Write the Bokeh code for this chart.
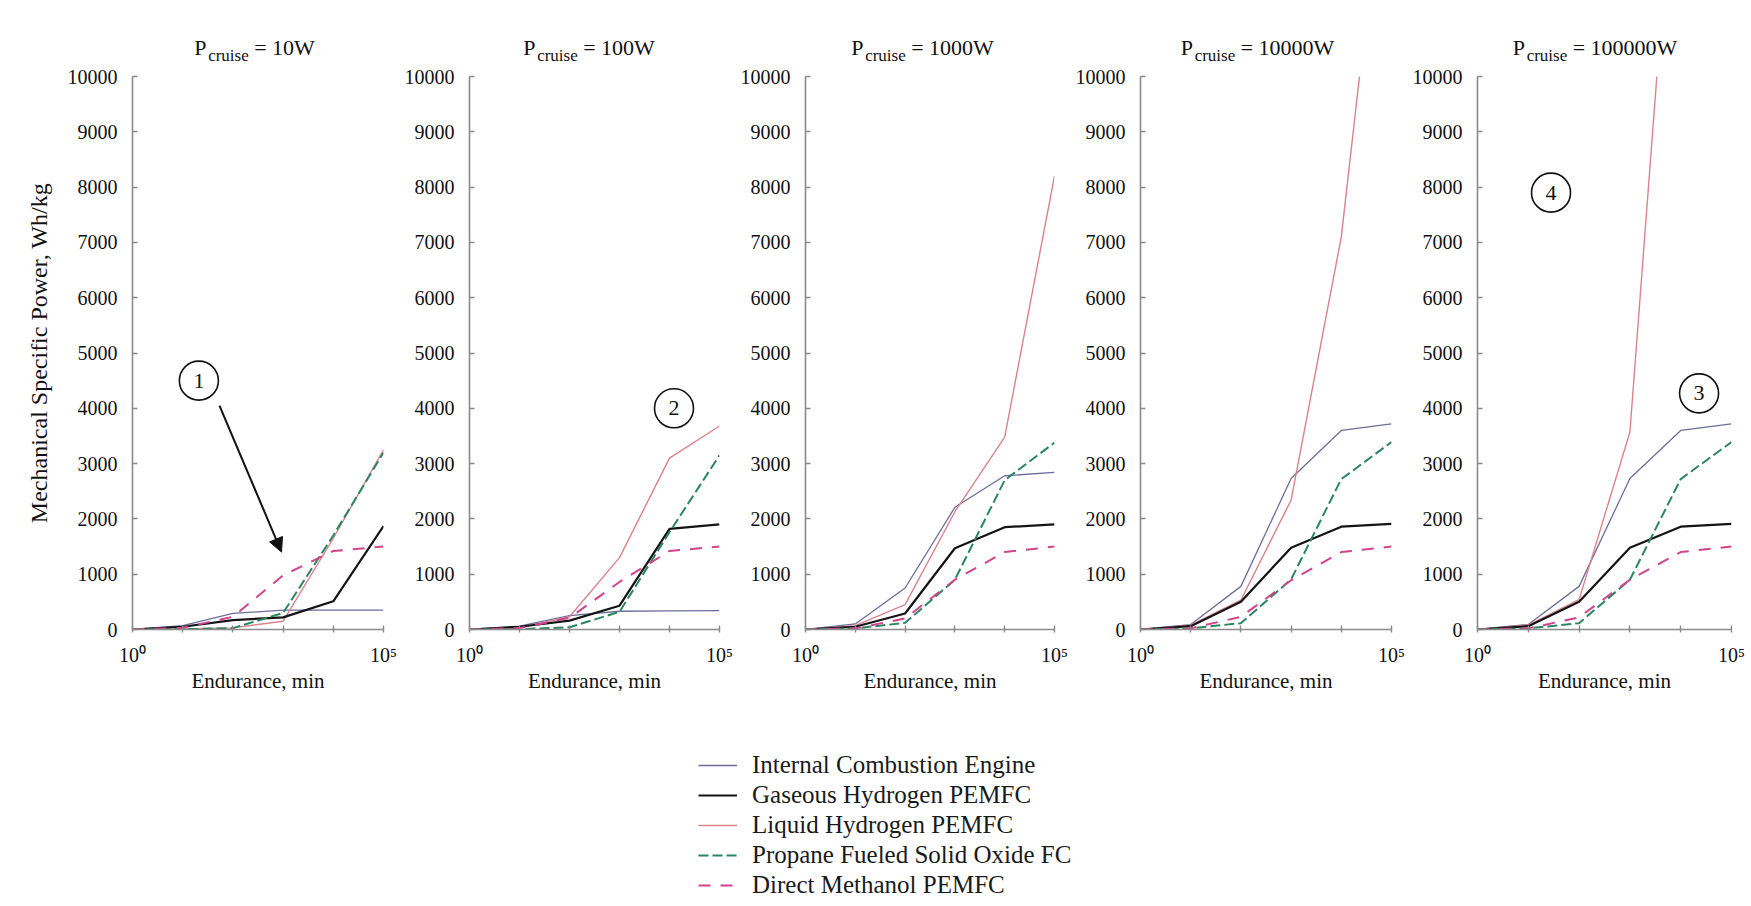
from bokeh.plotting import figure
from bokeh.layouts import row, column
from bokeh.models import FixedTicker, Arrow, NormalHead, Legend, LegendItem, Range1d
from bokeh.core.properties import value
from bokeh.embed import file_html
from bokeh.resources import INLINE

FONT = "Liberation Serif"

# ---------------- data ----------------
endurance_min = [1, 10, 100, 1000, 10000, 100000]
cruise_power = ["10W", "100W", "1000W", "10000W", "100000W"]
series_labels = ["Internal Combustion Engine", "Gaseous Hydrogen PEMFC",
                 "Liquid Hydrogen PEMFC", "Propane Fueled Solid Oxide FC",
                 "Direct Methanol PEMFC"]

# one list per cruise power panel (10W, 100W, 1000W, 10000W, 100000W)
ice = [[0, 70, 290, 350, 350, 350],
       [0, 60, 250, 330, 335, 340],
       [0, 100, 750, 2210, 2780, 2840],
       [0, 90, 780, 2730, 3600, 3720],
       [0, 90, 780, 2730, 3600, 3720]]
gh2 = [[0, 50, 170, 220, 510, 1870],
       [0, 50, 160, 430, 1820, 1900],
       [0, 50, 290, 1470, 1850, 1900],
       [0, 60, 500, 1480, 1860, 1910],
       [0, 60, 500, 1480, 1860, 1910]]
lh2 = [[0, 10, 30, 150, 1650, 3250],
       [0, 30, 230, 1300, 3100, 3680],
       [0, 70, 450, 2130, 3480, 8200],
       [0, 80, 530, 2340, 7100, 15100],
       [0, 80, 540, 3570, 15700, 25000]]
sofc = [[0, 5, 25, 300, 1700, 3200],
        [0, 5, 40, 320, 1760, 3150],
        [0, 20, 120, 900, 2700, 3380],
        [0, 20, 115, 905, 2720, 3390],
        [0, 20, 115, 900, 2720, 3390]]
dmfc = [[0, 30, 230, 980, 1420, 1500],
        [0, 25, 210, 860, 1420, 1500],
        [0, 20, 200, 900, 1400, 1500],
        [0, 20, 230, 890, 1400, 1500],
        [0, 20, 220, 900, 1400, 1500]]

y_ticks = list(range(0, 10001, 1000))
x_tick_labels = {1: "10\u2070", 10: "", 100: "", 1000: "", 10000: "", 100000: "10\u2075"}

# numbered callouts
callout_panel = [0, 1, 4, 4]
callout_text = ["1", "2", "4", "3"]
callout_x = [21, 12300, 28, 23000]
callout_y = [4500, 4000, 7900, 4270]
arrow_from = (54, 4050)
arrow_to = (930, 1400)

# ---------------- styles ----------------
series_data = [ice, gh2, lh2, sofc, dmfc]
styles = [
    dict(line_color="#6b6e9c", line_width=1.3),
    dict(line_color="#141414", line_width=2.2),
    dict(line_color="#d9838c", line_width=1.4),
    dict(line_color="#2a8660", line_width=2.0, line_dash="10 4"),
    dict(line_color="#d2438c", line_width=2.0, line_dash="12 10"),
]
draw_order = [0, 2, 1, 3, 4]

frame_lefts = [132, 467, 801, 1135, 1471]
frame_widths = [251, 250, 249, 251, 254]
RIGHT = 18
HEADER_H = 64
TOP = 76 - HEADER_H
FRAME_H = 553
BOTTOM = 75


def text_w(s, size):
    em = {"=": 0.564, " ": 0.25, "W": 0.944}
    return sum(em.get(ch, 0.5) for ch in s) * size


panels = []
prev_end = 0
for i, pw in enumerate(cruise_power):
    left_border = frame_lefts[i] - prev_end
    prev_end = frame_lefts[i] + frame_widths[i] + RIGHT
    p = figure(x_axis_type="log", x_range=Range1d(1, 1e5), y_range=Range1d(0, 10000),
               frame_width=frame_widths[i], frame_height=FRAME_H,
               min_border_left=left_border, min_border_right=RIGHT,
               min_border_top=TOP, min_border_bottom=BOTTOM,
               toolbar_location=None, output_backend="svg",
               outline_line_color=None, background_fill_color="white")
    p.grid.visible = False

    for k in draw_order:
        p.line(endurance_min, series_data[k][i], **styles[k])

    xa = p.xaxis[0]
    xa.ticker = FixedTicker(ticks=endurance_min)
    xa.major_label_overrides = x_tick_labels
    xa.axis_label = "Endurance, min"
    ya = p.yaxis[0]
    ya.ticker = FixedTicker(ticks=y_ticks)
    if i == 0:
        ya.axis_label = "Mechanical Specific Power, Wh/kg"
        ya.axis_label_standoff = 13
    for ax in (xa, ya):
        ax.axis_line_color = "#8a8a8a"
        ax.axis_line_width = 1.6
        ax.major_tick_line_color = "#8a8a8a"
        ax.major_tick_line_width = 1.4
        ax.minor_tick_line_color = None
        ax.major_label_text_font = FONT
        ax.major_label_text_font_size = "20px"
        ax.major_label_text_color = "#111111"
        ax.axis_label_text_font = FONT
        ax.axis_label_text_font_size = "21px"
        ax.axis_label_text_font_style = "normal"
        ax.axis_label_text_color = "#111111"
    ya.axis_label_text_font_size = "24px"
    xa.major_tick_in = 4
    xa.major_tick_out = 3
    xa.major_label_standoff = 11
    xa.axis_label_standoff = 0
    ya.major_tick_in = 5
    ya.major_tick_out = 0
    ya.major_label_standoff = 15

    # callouts
    idx = [j for j in range(len(callout_panel)) if callout_panel[j] == i]
    if idx:
        cxs = [callout_x[j] for j in idx]
        cys = [callout_y[j] for j in idx]
        cts = [callout_text[j] for j in idx]
        p.scatter(cxs, cys, marker="circle", size=39, fill_color=None,
                  line_color="#111111", line_width=1.6)
        p.text(cxs, cys, text=cts, text_align="center", text_baseline="middle",
               text_font=value(FONT), text_font_size="22px", text_color="#111111")
    if i == 0:
        p.add_layout(Arrow(end=NormalHead(size=14, fill_color="#111111", line_color="#111111"),
                           x_start=arrow_from[0], y_start=arrow_from[1],
                           x_end=arrow_to[0], y_end=arrow_to[1],
                           line_width=2, line_color="#111111"))
    panels.append(p)

# ---------------- header with panel titles (P_cruise = ...) ----------------
row_w = prev_end
hdr = figure(width=row_w, height=HEADER_H, x_range=Range1d(0, row_w), y_range=Range1d(0, HEADER_H),
             x_axis_location=None, y_axis_location=None, toolbar_location=None,
             output_backend="svg", min_border=0, outline_line_color=None)
hdr.grid.visible = False
p_x, sub_x, rest_x, rest_t = [], [], [], []
for i, pw in enumerate(cruise_power):
    rest = "= " + pw
    total = 60 + text_w(rest, 22)
    c = frame_lefts[i] + frame_widths[i] / 2.0
    L = c - 3.5 - total / 2.0
    p_x.append(L)
    sub_x.append(L + 14)
    rest_x.append(L + 60)
    rest_t.append(rest)
n = len(cruise_power)
hdr.text(p_x, [HEADER_H - 47] * n, text=["P"] * n, text_align="left", text_baseline="middle",
         text_font=value(FONT), text_font_size="22px", text_color="#111111")
hdr.text(sub_x, [HEADER_H - 55] * n, text=["cruise"] * n, text_align="left", text_baseline="middle",
         text_font=value(FONT), text_font_size="17px", text_color="#111111")
hdr.text(rest_x, [HEADER_H - 47] * n, text=rest_t, text_align="left", text_baseline="middle",
         text_font=value(FONT), text_font_size="22px", text_color="#111111")

# ---------------- legend ----------------
lf = figure(width=1751, height=906 - HEADER_H - TOP - FRAME_H - BOTTOM,
            x_range=Range1d(1e7, 1e8), y_range=Range1d(0, 1),
            x_axis_location=None, y_axis_location=None, toolbar_location=None,
            output_backend="svg", min_border=0, outline_line_color=None)
lf.grid.visible = False
items = []
for k, name in enumerate(series_labels):
    r = lf.line(endurance_min, series_data[k][0], **styles[k])
    items.append(LegendItem(label=name, renderers=[r]))
legend = Legend(items=items, location=(698, 6), label_text_font=FONT,
                label_text_font_size="25px", label_text_color="#1a1a1a",
                glyph_width=39, glyph_height=20, label_height=30, label_standoff=15,
                spacing=0, padding=0, margin=0, border_line_color=None,
                background_fill_alpha=0)
lf.add_layout(legend)

layout = column(hdr, row(*panels, spacing=0), lf, spacing=0)
open("out.html", "w").write(file_html(layout, INLINE))
